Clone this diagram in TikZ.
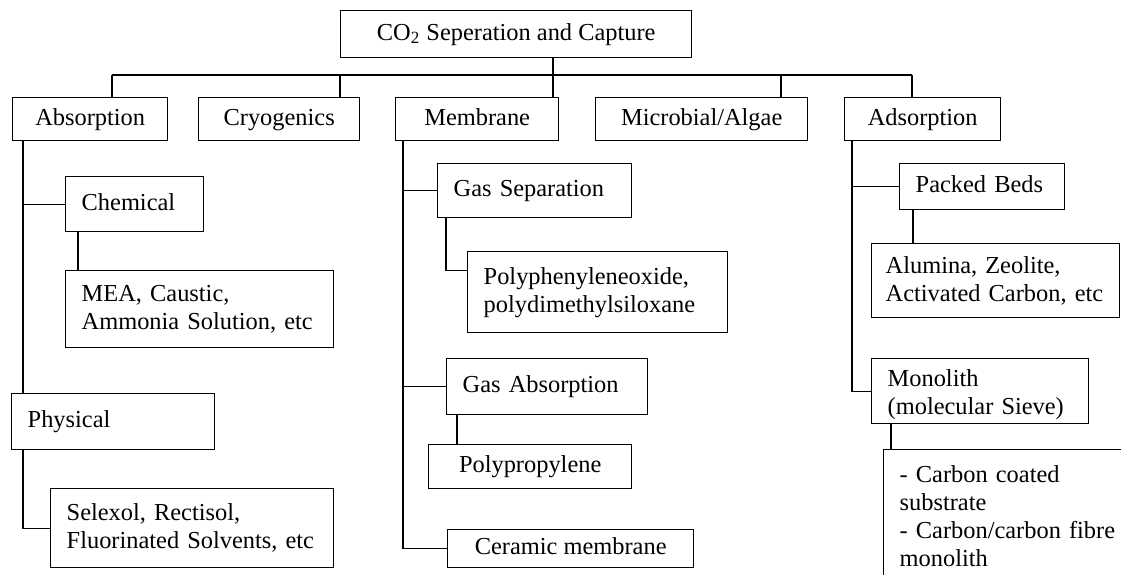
\documentclass[tikz,border=0pt]{standalone}
\usepackage{fontspec}
\setmainfont{Liberation Serif}

\tikzset{
    cs box/.style={draw, line width=0.7pt, anchor=north west, inner sep=0pt,
                   text height=8.6pt, text depth=2.6pt,
                   font=\fontsize{12.2}{14}\selectfont},
    cs leaf/.style={cs box, align=left, inner xsep=8pt},
    cs multi/.style={text height=, text depth=},
    cs link/.style={line width=0.7pt},
}

\begin{document}
\begin{tikzpicture}[x=1pt, y=-1pt]
    \useasboundingbox (0,0) rectangle (560.5,287);
    % Root and first level
    \node[cs box, minimum width=175.5pt, minimum height=23.5pt] (root) at (170,5)
        {CO\textsubscript{2} Seperation and Capture};
    \node[cs box, minimum width=77.5pt, minimum height=21.5pt] (absorb) at (6,48.5) {Absorption};
    \node[cs box, minimum width=80.5pt, minimum height=21.5pt] (cryo) at (99,48.5) {Cryogenics};
    \node[cs box, minimum width=81.5pt, minimum height=21.5pt] (membrane) at (197.5,48.5) {Membrane};
    \node[cs box, minimum width=106pt, minimum height=21.5pt] (microbial) at (297.5,48.5) {Microbial/Algae};
    \node[cs box, minimum width=78pt, minimum height=21.5pt] (adsorb) at (422,48.5) {Adsorption};
    % Absorption branch
    \node[cs leaf, text width=53pt, minimum height=27.5pt] (chem) at (32.5,88) {Chemical};
    \node[cs leaf, cs multi, text width=118pt, minimum height=38.5pt] (mea) at (32.5,135)
        {MEA, Caustic,\\ Ammonia Solution, etc};
    \node[cs leaf, text width=85.5pt, minimum height=28pt] (phys) at (5.5,196.5) {Physical};
    \node[cs leaf, cs multi, text width=125.5pt, minimum height=39.5pt] (selexol) at (25,244)
        {Selexol, Rectisol,\\ Fluorinated Solvents, etc};
    % Membrane branch
    \node[cs leaf, text width=81pt, minimum height=27pt] (gassep) at (218.5,81.5) {Gas Separation};
    \node[cs leaf, cs multi, text width=114pt, minimum height=40.5pt] (poly) at (233.5,125.5)
        {Polyphenyleneoxide,\\ polydimethylsiloxane};
    \node[cs leaf, text width=84.5pt, minimum height=28pt] (gasabs) at (223,179) {Gas Absorption};
    \node[cs box, minimum width=101.5pt, minimum height=22pt] (polypro) at (214,222) {Polypropylene};
    \node[cs box, minimum width=123pt, minimum height=19pt] (ceramic) at (223.5,264.5) {Ceramic membrane};
    % Adsorption branch
    \node[cs leaf, text width=66.5pt, minimum height=23pt] (packed) at (449.5,81.5) {Packed Beds};
    \node[cs leaf, cs multi, inner xsep=7pt, text width=110pt, minimum height=37pt] (alumina) at (435.5,121.5)
        {Alumina, Zeolite,\\ Activated Carbon, etc};
    \node[cs leaf, cs multi, text width=92.5pt, minimum height=32.5pt, text depth=13pt] (monolith) at (435.5,179)
        {Monolith\\ (molecular Sieve)};
    \node[cs leaf, cs multi, text width=114pt, minimum height=66pt] (carbon) at (441.5,224.5)
        {- Carbon coated\\ substrate\\ - Carbon/carbon fibre\\ monolith};

    % Bus under the root
    \coordinate (b1) at (56,37.5);
    \coordinate (b2) at (170,37.5);
    \coordinate (b3) at (276.5,37.5);
    \coordinate (b4) at (390.5,37.5);
    \coordinate (b5) at (456,37.5);
    \draw[cs link] (b1) -- (b5);
    \draw[cs link] (b3 |- root.south) -- (b3 |- membrane.north);
    \foreach \b/\n in {b1/absorb, b2/cryo, b4/microbial, b5/adsorb}
        \draw[cs link] (\b) -- (\b |- \n.north);

    % Absorption spine
    \coordinate (absx) at (11.5,70);
    \draw[cs link] (absx |- absorb.south) -- (absx |- phys.north);
    \draw[cs link] (absx |- chem.west) -- (chem.west);
    \draw[cs link] ([xshift=6.5pt]chem.south west) -- ([xshift=6.5pt]chem.south west |- mea.north);
    \draw[cs link] (absx |- phys.south) |- (selexol.west);

    % Membrane spine
    \coordinate (memx) at (201.5,70);
    \draw[cs link] (memx |- membrane.south) |- (ceramic.west);
    \draw[cs link] (memx |- gassep.west) -- (gassep.west);
    \draw[cs link] (memx |- gasabs.west) -- (gasabs.west);
    \draw[cs link] ([xshift=4.5pt]gassep.south west) |- ([yshift=10.75pt]poly.west);
    \draw[cs link] ([xshift=5.5pt]gasabs.south west) -- ([xshift=5.5pt]gasabs.south west |- polypro.north);

    % Adsorption spine
    \coordinate (adsx) at (426,70);
    \draw[cs link] (adsx |- adsorb.south) |- (monolith.west);
    \draw[cs link] (adsx |- packed.west) -- (packed.west);
    \draw[cs link] ([xshift=7pt]packed.south west) -- ([xshift=7pt]packed.south west |- alumina.north);
    \draw[cs link] ([xshift=10pt]monolith.south west) -- ([xshift=10pt]monolith.south west |- carbon.north);
\end{tikzpicture}
\end{document}
